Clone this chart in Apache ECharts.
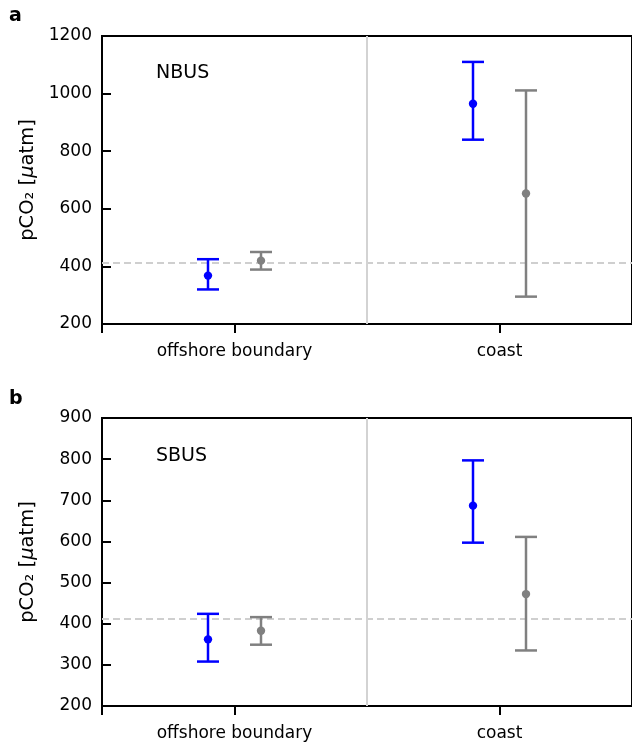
<!DOCTYPE html>
<html>
<head>
<meta charset="utf-8">
<script src="https://cdn.jsdelivr.net/npm/echarts@6/dist/echarts.min.js"></script>
<style>
  html, body { margin: 0; padding: 0; background: #fff; }
  #main { width: 632px; height: 743px; }
</style>
</head>
<body>
<div id="main"></div>
<script type="text/javascript">
// categories on the x axis
var categories = ['offshore boundary', 'coast'];

// NBUS panel: mean, lower, upper per category
var nbusBlueMean = [368, 965];
var nbusBlueLow  = [320, 840];
var nbusBlueHigh = [425, 1110];
var nbusGrayMean = [420, 653];
var nbusGrayLow  = [389, 295];
var nbusGrayHigh = [450, 1011];

// SBUS panel
var sbusBlueMean = [362, 687];
var sbusBlueLow  = [308, 597];
var sbusBlueHigh = [424, 797];
var sbusGrayMean = [383, 472];
var sbusGrayLow  = [349, 335];
var sbusGrayHigh = [416, 611];

// atmospheric reference level (dashed line)
var refLevel = 413;

var FONT = 'DejaVu Sans';

function rows(mean, low, high) {
    var out = [];
    for (var i = 0; i < mean.length; i++) {
        out.push([i, mean[i], low[i], high[i]]);
    }
    return out;
}

function errorSeries(idx, color, shift, mean, low, high) {
    return {
        type: 'custom',
        xAxisIndex: idx,
        yAxisIndex: idx,
        z: 5,
        data: rows(mean, low, high),
        renderItem: function (params, api) {
            var x = api.value(0) + shift;
            var c = api.coord([x, api.value(1)]);
            var lo = api.coord([x, api.value(2)]);
            var hi = api.coord([x, api.value(3)]);
            var cap = 11;
            var st = { stroke: color, lineWidth: 2.5 };
            return {
                type: 'group',
                children: [
                    { type: 'line', shape: { x1: lo[0], y1: lo[1], x2: hi[0], y2: hi[1] }, style: st },
                    { type: 'line', shape: { x1: lo[0] - cap, y1: lo[1], x2: lo[0] + cap, y2: lo[1] }, style: st },
                    { type: 'line', shape: { x1: hi[0] - cap, y1: hi[1], x2: hi[0] + cap, y2: hi[1] }, style: st },
                    { type: 'circle', shape: { cx: c[0], cy: c[1], r: 4.2 }, style: { fill: color } }
                ]
            };
        }
    };
}

function refSeries(idx) {
    return {
        type: 'line',
        xAxisIndex: idx,
        yAxisIndex: idx,
        data: [],
        z: 1,
        silent: true,
        markLine: {
            symbol: 'none',
            silent: true,
            label: { show: false },
            data: [
                { yAxis: refLevel, lineStyle: { color: '#cfcfcf', type: [7, 4], width: 1.8 } },
                { xAxis: 0.5, lineStyle: { color: '#d3d3d3', type: 'solid', width: 2 } }
            ]
        }
    };
}

function xAxisCfg(idx) {
    return {
        type: 'value',
        gridIndex: idx,
        min: -0.5,
        max: 1.5,
        axisLine: { show: true, onZero: false, lineStyle: { color: '#000', width: 2 } },
        axisTick: {
            show: true, inside: false, length: 9,
            customValues: [-0.5, 0, 1],
            lineStyle: { color: '#000', width: 2 }
        },
        axisLabel: {
            customValues: [0, 1],
            margin: 19,
            fontSize: 17,
            fontFamily: FONT,
            color: '#000',
            formatter: function (v) { return categories[Math.round(v)]; }
        },
        splitLine: { show: false }
    };
}

function yAxisCfg(idx, min, max, step) {
    return {
        type: 'value',
        gridIndex: idx,
        min: min,
        max: max,
        interval: step,
        name: '{a|pCO₂ [}{b|μ}{a|atm]}',
        nameLocation: 'middle',
        nameRotate: 90,
        nameGap: 64,
        nameTextStyle: {
            rich: {
                a: { fontSize: 19.5, fontFamily: FONT, color: '#000' },
                b: { fontSize: 19.5, fontFamily: FONT, color: '#000', fontStyle: 'italic' }
            }
        },
        axisLine: { show: true, onZero: false, lineStyle: { color: '#000', width: 2 } },
        axisTick: { show: true, inside: true, length: 9, lineStyle: { color: '#000', width: 2 } },
        axisLabel: {
            margin: 10, fontSize: 17, fontFamily: FONT, color: '#000',
            formatter: function (v) { return String(v); }
        },
        splitLine: { show: false }
    };
}

var myChart = echarts.init(document.getElementById('main'), null, { renderer: 'canvas' });

var option = {
    animation: false,
    backgroundColor: '#fff',
    title: [
        { text: 'a', left: 9, top: 7, padding: 0, textStyle: { fontSize: 19, fontWeight: 'bold', fontFamily: FONT, color: '#000' } },
        { text: 'b', left: 9, top: 390, padding: 0, textStyle: { fontSize: 19, fontWeight: 'bold', fontFamily: FONT, color: '#000' } },
        { text: 'NBUS', left: 156, top: 64, padding: 0, textStyle: { fontSize: 19, fontWeight: 'normal', fontFamily: FONT, color: '#000' } },
        { text: 'SBUS', left: 156, top: 447, padding: 0, textStyle: { fontSize: 19, fontWeight: 'normal', fontFamily: FONT, color: '#000' } }
    ],
    grid: [
        { left: 102, top: 36, width: 532, height: 288, show: true, borderColor: '#000', borderWidth: 2, backgroundColor: 'transparent' },
        { left: 102, top: 418, width: 532, height: 288, show: true, borderColor: '#000', borderWidth: 2, backgroundColor: 'transparent' }
    ],
    xAxis: [xAxisCfg(0), xAxisCfg(1)],
    yAxis: [yAxisCfg(0, 200, 1200, 200), yAxisCfg(1, 200, 900, 100)],
    series: [
        refSeries(0),
        refSeries(1),
        errorSeries(0, '#0000ff', -0.1, nbusBlueMean, nbusBlueLow, nbusBlueHigh),
        errorSeries(0, '#808080', 0.1, nbusGrayMean, nbusGrayLow, nbusGrayHigh),
        errorSeries(1, '#0000ff', -0.1, sbusBlueMean, sbusBlueLow, sbusBlueHigh),
        errorSeries(1, '#808080', 0.1, sbusGrayMean, sbusGrayLow, sbusGrayHigh)
    ]
};

myChart.setOption(option);
</script>
</body>
</html>
